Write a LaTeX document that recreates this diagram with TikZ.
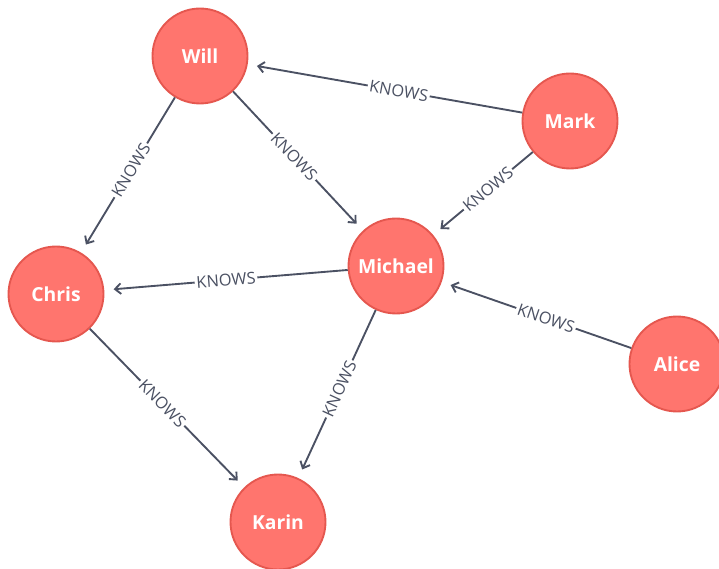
\documentclass[tikz,border=0pt]{standalone}
\usepackage{fontspec}
\setmainfont{Open Sans}
\usetikzlibrary{arrows.meta}

\definecolor{nodefill}{HTML}{FF756E}
\definecolor{nodeline}{HTML}{E5574F}
\definecolor{edgecol}{HTML}{4B5163}

\begin{document}
\begin{tikzpicture}[x=0.03cm, y=-0.03cm,
    person/.style={circle, fill=nodefill, draw=nodeline, line width=1.6pt,
      minimum size=2.85cm, inner sep=0pt, text=white,
      font=\fontsize{16.5}{19}\selectfont\bfseries},
    knows/.style={draw=edgecol, line width=1.6pt, -{Straight Barb[length=5pt,width=9pt,line width=1.6pt]},
      shorten >=8pt},
    rel/.style={sloped, fill=white, inner sep=1.5pt, text=edgecol,
      font=\fontsize{14}{16}\selectfont}]
  % canvas, pixel-like units (y grows downwards)
  \useasboundingbox (0,0) rectangle (719,569);

  % people
  \node[person] (will)    at (200,56)  {Will};
  \node[person] (mark)    at (570,121) {Mark};
  \node[person] (chris)   at (56,294)  {Chris};
  \node[person] (michael) at (396,266) {Michael};
  \node[person] (alice)   at (677,364) {Alice};
  \node[person] (karin)   at (278,522) {Karin};

  % relations
  \draw[knows] (will)    -- node[rel, pos=0.47] {KNOWS} (chris);
  \draw[knows] (will)    -- node[rel, pos=0.47] {KNOWS} (michael);
  \draw[knows] (mark)    -- node[rel, pos=0.45] {KNOWS} (will);
  \draw[knows] (mark)    -- node[rel, pos=0.45] {KNOWS} (michael);
  \draw[knows] (michael) -- node[rel] {KNOWS} (chris);
  \draw[knows] (alice)   -- node[rel, pos=0.45] {KNOWS} (michael);
  \draw[knows] (michael) -- node[rel, pos=0.47] {KNOWS} (karin);
  \draw[knows] (chris)   -- node[rel, pos=0.47] {KNOWS} (karin);
\end{tikzpicture}
\end{document}
